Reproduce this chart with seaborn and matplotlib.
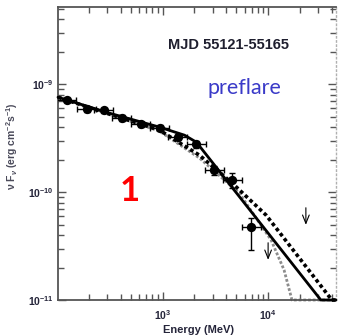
import numpy as np
import pandas as pd
import matplotlib
matplotlib.use("Agg")
import matplotlib.pyplot as plt
from matplotlib.ticker import LogLocator, FuncFormatter, NullFormatter
import seaborn as sns

# Fermi-LAT spectral points (MeV, erg cm^-2 s^-1)
energy = [124, 192, 277, 410, 620, 937, 1387, 2094, 3098, 4571, 6918]
flux = [7.1e-10, 5.87e-10, 5.74e-10, 4.84e-10, 4.26e-10, 3.92e-10,
        3.23e-10, 2.78e-10, 1.60e-10, 1.29e-10, 4.74e-11]
flux_err_lo = [0.2e-10, 0.3e-10, 0.3e-10, 0.3e-10, 0.25e-10, 0.25e-10,
               0.2e-10, 0.2e-10, 0.15e-10, 0.2e-10, 1.84e-11]
flux_err_hi = [0.2e-10, 0.3e-10, 0.3e-10, 0.3e-10, 0.25e-10, 0.25e-10,
               0.2e-10, 0.2e-10, 0.15e-10, 0.22e-10, 1.0e-11]

# upper limits
ul_energy = [1.0e4, 2.28e4]
ul_flux = [3.6e-11, 7.6e-11]

# spectral models
bpl_energy = [102, 316, 937, 1614, 2094, 31600, 44000]
bpl_flux = [7.58e-10, 5.38e-10, 4.0e-10, 3.37e-10, 2.90e-10, 1.0e-11, 1.0e-11]

lp_energy = [102, 316, 937, 1500, 2233, 4571, 9568, 40200, 44000]
lp_flux = [7.58e-10, 5.27e-10, 3.75e-10, 2.8e-10, 2.20e-10, 1.21e-10,
           6.12e-11, 1.0e-11, 1.0e-11]

ec_energy = [102, 316, 937, 2233, 5321, 10670, 14160, 16830, 44000]
ec_flux = [7.58e-10, 5.27e-10, 3.67e-10, 2.07e-10, 9.8e-11, 3.6e-11,
           1.9e-11, 1.0e-11, 1.0e-11]

x_ticks = [1e3, 1e4]
y_ticks = [1e-11, 1e-10, 1e-9]

sns.set_theme(style="ticks")
plt.rcParams["font.family"] = ["Liberation Sans", "DejaVu Sans"]
plt.rcParams["mathtext.fontset"] = "custom"
plt.rcParams["mathtext.rm"] = "Liberation Sans:bold"
plt.rcParams["mathtext.bf"] = "Liberation Sans:bold"
plt.rcParams["mathtext.it"] = "Liberation Sans:bold:italic"

fig = plt.figure(figsize=(3.39, 3.36), dpi=100)
ax = fig.add_axes([58 / 339, 1 - 300 / 336, 278 / 339, 293 / 336])

ax.set_xscale("log")
ax.set_yscale("log")
ax.set_xlim(102, 4.4e4)
ax.set_ylim(1e-11, 5.2e-9)

df_ec = pd.DataFrame({"E": ec_energy, "F": ec_flux})
df_lp = pd.DataFrame({"E": lp_energy, "F": lp_flux})
df_bpl = pd.DataFrame({"E": bpl_energy, "F": bpl_flux})

sns.lineplot(data=df_ec, x="E", y="F", ax=ax, sort=False, color="#8c8c8c",
             lw=2.0, linestyle=(0, (1, 0.7)), zorder=2, clip_on=False)
sns.lineplot(data=df_lp, x="E", y="F", ax=ax, sort=False, color="black",
             lw=2.6, linestyle=(0, (1, 0.8)), zorder=3, clip_on=False)
sns.lineplot(data=df_bpl, x="E", y="F", ax=ax, sort=False, color="black",
             lw=2.0, zorder=4, clip_on=False)

e = np.array(energy, dtype=float)
half = 10 ** 0.09
xerr = [e - e / half, e * half - e]
ax.errorbar(energy, flux, xerr=xerr, yerr=[flux_err_lo, flux_err_hi],
            fmt="none", ecolor="black", elinewidth=1.0, capsize=2.5,
            capthick=1.0, zorder=5)
sns.scatterplot(x=energy, y=flux, ax=ax, color="black", s=45,
                edgecolor="black", linewidth=0, zorder=6)

for ue, uf in zip(ul_energy, ul_flux):
    ax.annotate("", xy=(ue, uf * 10 ** -0.21), xytext=(ue, uf),
                arrowprops=dict(arrowstyle="->,head_length=0.5,head_width=0.2",
                                color="black", lw=0.8), zorder=5)

# axes styling
spine_col = "#555555"
for side in ["left", "bottom", "top"]:
    ax.spines[side].set_color(spine_col)
    ax.spines[side].set_linewidth(1.3)
ax.spines["right"].set_color("#b0b0b0")
ax.spines["right"].set_linewidth(1.0)
ax.spines["right"].set_linestyle((0, (1, 2)))

ax.xaxis.set_major_locator(LogLocator(base=10, numticks=10))
ax.xaxis.set_minor_locator(LogLocator(base=10, subs=np.arange(2, 10), numticks=10))
ax.yaxis.set_major_locator(LogLocator(base=10, numticks=10))
ax.yaxis.set_minor_locator(LogLocator(base=10, subs=np.arange(2, 10), numticks=10))
ax.set_xticks(x_ticks)
ax.set_yticks(y_ticks)

fmt = FuncFormatter(lambda v, p: r"$\mathbf{10^{%d}}$" % int(round(np.log10(v))))
ax.xaxis.set_major_formatter(fmt)
ax.yaxis.set_major_formatter(fmt)
ax.xaxis.set_minor_formatter(NullFormatter())
ax.yaxis.set_minor_formatter(NullFormatter())

lab_col = "#25253a"
ax.tick_params(which="both", direction="in", top=True, right=True,
               color=spine_col, width=1.0, labelcolor=lab_col, labelsize=7.5)
ax.tick_params(which="major", length=6)
ax.tick_params(which="minor", length=4)
ax.tick_params(axis="x", which="major", pad=6)
ax.tick_params(axis="y", which="major", pad=3)
for t in ax.yaxis.get_ticklines(minor=False)[1::2]:
    t.set_color("#999999")
for t in ax.yaxis.get_ticklines(minor=True)[1::2]:
    t.set_color("#cccccc")

ax.set_xlabel("Energy (MeV)", fontsize=8, fontweight="bold", color=lab_col)
ax.xaxis.set_label_coords(0.507, -0.085)
ax.set_ylabel(r"$\mathrm{\nu}$ F$_{\nu}$ (erg cm$^{-2}$s$^{-1}$)", fontsize=7.5,
              fontweight="bold", color="#4a4a5a")
ax.yaxis.set_label_coords(-0.137, 0.524)

ax.text(0.615, 0.870, "MJD 55121-55165", transform=ax.transAxes,
        ha="center", va="center", fontsize=10.5, fontweight="bold",
        color="#1e1e2e")
ax.text(0.669, 0.722, "preflare", transform=ax.transAxes, ha="center",
        va="center", fontsize=15.5, color="#3a3ac8", family=["Lato", "DejaVu Sans"])
ax.text(0.259, 0.372, "1", transform=ax.transAxes, ha="center", va="center",
        fontsize=25, fontweight="bold", color="#ff0000",
        family=["Lato", "DejaVu Sans"])

fig.savefig("out.png", dpi=100)
